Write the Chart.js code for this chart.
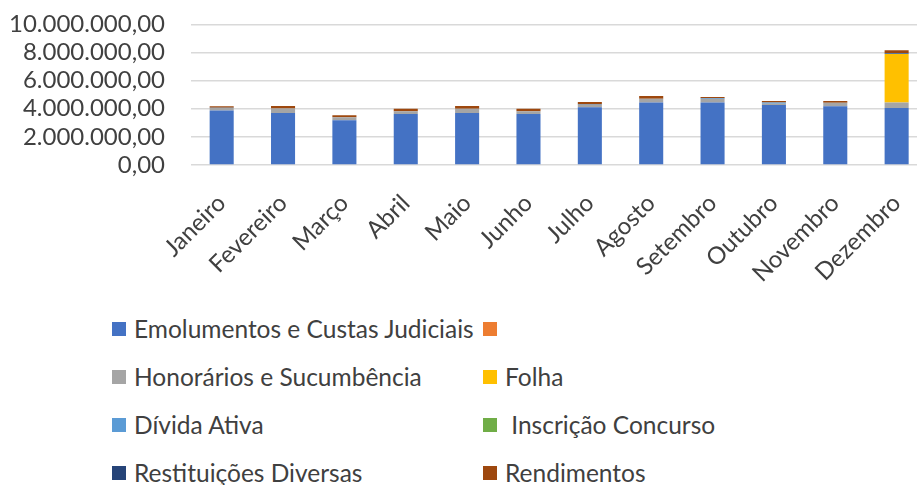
<!DOCTYPE html>
<html>
<head>
<meta charset="utf-8">
<script src="https://cdn.jsdelivr.net/npm/chart.js@4"></script>
<style>
  html, body { margin:0; padding:0; background:#fff; overflow:hidden; }
  #wrap { position:relative; width:917px; height:485px; overflow:hidden; }
  #cbox { position:absolute; left:0; top:-16px; width:941px; height:316px; }
  #legend { position:absolute; left:0; top:0; font-family:Lato, "Open Sans", sans-serif; font-size:24.5px; color:#404040; }
  .li { position:absolute; white-space:pre; line-height:28px; height:28px; }
  .sw { position:absolute; width:14px; height:14px; top:7px; left:0; }
  .tx { position:absolute; left:22px; top:0; }
</style>
</head>
<body>
<div id="wrap">
  <div id="cbox"><canvas id="c"></canvas></div>
  <div id="legend"></div>
</div>
<script>
const months = ["Janeiro","Fevereiro","Março","Abril","Maio","Junho","Julho","Agosto","Setembro","Outubro","Novembro","Dezembro"];
const yTicks = [0, 2000000, 4000000, 6000000, 8000000, 10000000];

const seriesNames = ["Emolumentos e Custas Judiciais", "", "Honorários e Sucumbência", "Folha", "Dívida Ativa", " Inscrição Concurso", "Restituições Diversas", "Rendimentos"];
const seriesColors = ["#4472C4", "#ED7D31", "#A5A5A5", "#FFC000", "#5B9BD5", "#70AD47", "#264478", "#9E480E"];

const emolumentos  = [3880000, 3690000, 3190000, 3620000, 3690000, 3620000, 4100000, 4450000, 4450000, 4260000, 4170000, 4050000];
const semNome      = [0, 0, 0, 0, 0, 0, 0, 0, 0, 0, 0, 0];
const honorarios   = [170000, 330000, 210000, 210000, 310000, 210000, 170000, 260000, 250000, 100000, 260000, 400000];
const folha        = [0, 0, 0, 0, 0, 0, 0, 0, 0, 0, 0, 3450000];
const dividaAtiva  = [30000, 0, 0, 0, 0, 0, 30000, 0, 40000, 90000, 0, 20000];
const inscricao    = [0, 0, 0, 0, 0, 0, 0, 0, 0, 0, 0, 0];
const restituicoes = [0, 0, 0, 0, 0, 0, 0, 0, 0, 0, 0, 50000];
const rendimentos  = [100000, 170000, 140000, 170000, 190000, 170000, 180000, 190000, 100000, 100000, 120000, 190000];

const seriesData = [emolumentos, semNome, honorarios, folha, dividaAtiva, inscricao, restituicoes, rendimentos];

function fmtBR(v) {
  const neg = v < 0; v = Math.abs(v);
  let int = Math.floor(v).toString();
  let dec = Math.round((v - Math.floor(v)) * 100).toString().padStart(2, "0");
  int = int.replace(/\B(?=(\d{3})+(?!\d))/g, ".");
  return (neg ? "-" : "") + int + "," + dec;
}

const FONT = "Lato, 'Open Sans', sans-serif";
const TXT = "#404040";

const datasets = seriesNames.map((n, i) => ({
  label: n,
  data: seriesData[i],
  backgroundColor: seriesColors[i],
  borderWidth: 0,
  categoryPercentage: 1,
  barPercentage: 0.392
}));

new Chart(document.getElementById("c"), {
  type: "bar",
  data: { labels: months, datasets },
  options: {
    responsive: true,
    maintainAspectRatio: false,
    animation: false,
    layout: { padding: { top: 8, left: 0, right: 0, bottom: 0 } },
    plugins: { legend: { display: false }, tooltip: { enabled: false } },
    scales: {
      x: {
        stacked: true,
        grid: { display: false, drawTicks: false },
        border: { display: false },
        ticks: {
          autoSkip: false, minRotation: 45, maxRotation: 45, padding: 24,
          color: TXT, font: { family: FONT, size: 24 }
        },
        afterFit: (s) => { s.height = 135; }
      },
      y: {
        stacked: true,
        min: 0, max: 10000000,
        afterBuildTicks: (s) => { s.ticks = yTicks.map(v => ({ value: v })); },
        grid: { color: "#D9D9D9", lineWidth: 1.5, drawTicks: false },
        border: { display: false },
        ticks: {
          autoSkip: false, padding: 26, color: TXT, font: { family: FONT, size: 24 },
          callback: (v) => fmtBR(v)
        },
        afterFit: (s) => { s.width = 191; }
      }
    }
  }
});

// HTML legend, two columns, row-wise (Excel style)
const legend = document.getElementById("legend");
const colX = [112, 483];
const rowY = [315, 363, 411, 459];
seriesNames.forEach((n, i) => {
  const col = i % 2, row = Math.floor(i / 2);
  const d = document.createElement("div");
  d.className = "li";
  d.style.left = colX[col] + "px";
  d.style.top = rowY[row] + "px";
  d.innerHTML = '<span class="sw" style="background:' + seriesColors[i] + '"></span><span class="tx"></span>';
  d.querySelector(".tx").textContent = n;
  legend.appendChild(d);
});
</script>
</body>
</html>
